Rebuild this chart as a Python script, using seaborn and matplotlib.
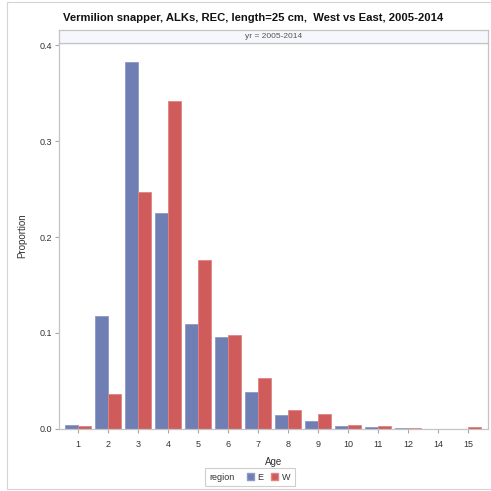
import matplotlib
matplotlib.use("Agg")
import matplotlib.pyplot as plt
from matplotlib.patches import Rectangle, Patch
from matplotlib.offsetbox import HPacker
import seaborn as sns
import pandas as pd

ages = ["1", "2", "3", "4", "5", "6", "7", "8", "9", "10", "11", "12", "14", "15"]
east = [0.0035, 0.1175, 0.3825, 0.2247, 0.109, 0.0952, 0.0378, 0.014, 0.0075, 0.003, 0.0015, 0.001, 0.0, 0.0]
west = [0.0025, 0.0357, 0.247, 0.342, 0.176, 0.098, 0.053, 0.0196, 0.0155, 0.0035, 0.0025, 0.001, 0.0, 0.0015]
regions = ["E", "W"]
colors = {"E": "#6F7EB3", "W": "#D05B5B"}
edges = {"E": "#8E9AC6", "W": "#E08484"}
title = "Vermilion snapper, ALKs, REC, length=25 cm,  West vs East, 2005-2014"
strip_label = "yr = 2005-2014"

df = pd.DataFrame({
    "Age": ages * 2,
    "Proportion": east + west,
    "region": ["E"] * len(ages) + ["W"] * len(ages),
})

sns.set_theme(style="white")
plt.rcParams["font.family"] = ["Liberation Sans", "DejaVu Sans"]

W = 491
fig = plt.figure(figsize=(4.91, 4.91), dpi=100)
fig.patch.set_facecolor("white")

# outer border
fig.add_artist(Rectangle((7 / W, 2 / W), 490 / W, 487 / W, transform=fig.transFigure,
                         fill=False, edgecolor="#D4D4D4", linewidth=0.8))

ax = fig.add_axes([59 / W, 62 / W, 429 / W, 386 / W])
sns.barplot(data=df, x="Age", y="Proportion", hue="region", order=ages, hue_order=regions,
            palette=colors, width=0.86, saturation=1, ax=ax, legend=False)
for i, cont in enumerate(ax.containers):
    for bar in cont:
        bar.set_edgecolor(edges[regions[i]])
        bar.set_linewidth(0.6)

ax.set_xlim(-0.622, 13.656)
ax.set_ylim(-0.0005, 0.4026)
ax.set_yticks([0.0, 0.1, 0.2, 0.3, 0.4])
ax.set_yticklabels(["0.0", "0.1", "0.2", "0.3", "0.4"])
for s in ax.spines.values():
    s.set_color("#C4C4C4")
    s.set_linewidth(0.9)
ax.tick_params(axis="both", which="both", length=3, width=0.8, color="#A8A8A8",
               labelsize=6.5, labelcolor="#333333", pad=2, direction="out",
               bottom=True, left=True)
ax.tick_params(axis="x", pad=5)
ax.set_xlabel("Age", fontsize=7, color="#333333", labelpad=6)
ax.set_ylabel("Proportion", fontsize=7, color="#333333", labelpad=9)
ax.grid(False)

# header strip
sax = fig.add_axes([59 / W, 448 / W, 429 / W, 13 / W])
sax.set_facecolor("#F5F7FC")
sax.set_xticks([])
sax.set_yticks([])
for s in sax.spines.values():
    s.set_color("#C4C4C4")
    s.set_linewidth(0.9)
sax.text(0.5, 0.5, strip_label, ha="center", va="center", fontsize=6, color="#555555",
         transform=sax.transAxes)

fig.text(253 / W, 1 - 18 / W, title, ha="center", va="center", fontsize=8.1,
         fontweight="bold", color="#111111")

handles = [Patch(facecolor=colors["E"], edgecolor=edges["E"], label="E"),
           Patch(facecolor=colors["W"], edgecolor=edges["W"], label="W")]
fs = 6.5
leg = fig.legend(handles=handles, ncol=2, loc="center", bbox_to_anchor=(250 / W, 1 - 477 / W),
                 fontsize=fs, title="region", title_fontsize=fs, frameon=True,
                 handlelength=0.8, handleheight=0.8, handletextpad=0.4, columnspacing=0.8,
                 borderpad=0.3, fancybox=False, borderaxespad=0)
try:
    fsz = leg._fontsize
    newbox = HPacker(pad=0.55 * fsz, sep=1.3 * fsz, align="center",
                     children=[leg._legend_title_box, leg._legend_handle_box])
    newbox.set_figure(fig)
    newbox.set_offset(leg._findoffset)
    leg._legend_box = newbox
except Exception:
    pass
leg.get_title().set_color("#333333")
leg.get_frame().set_edgecolor("#C4C4C4")
leg.get_frame().set_linewidth(0.8)
for t in leg.get_texts():
    t.set_color("#333333")

fig.savefig("out.png", dpi=100)
